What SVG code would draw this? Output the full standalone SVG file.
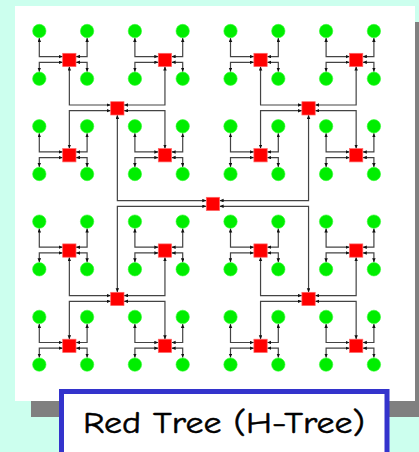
<svg xmlns="http://www.w3.org/2000/svg" width="419" height="452" viewBox="0 0 419 452">
<defs>
<style>
.leaf{fill:#00ee00;stroke:#33ff33;stroke-width:0.6}
.sw{fill:#ff0000;stroke:#ff6666;stroke-width:0.7}
.e{fill:none;stroke:#444;stroke-width:1.2;marker-start:url(#ah);marker-end:url(#ah)}
.lbl{font-family:'Comic Sans MS','Comic Neue','Liberation Sans',sans-serif;font-size:30px;fill:#000;stroke:#000;stroke-width:0.5}
</style>
<marker id="ah" markerUnits="userSpaceOnUse" markerWidth="5" markerHeight="4" refX="4" refY="1.75" orient="auto-start-reverse"><path d="M0,0 L4,1.75 L0,3.5 z" fill="#111"/></marker>
</defs>
<rect x="0" y="0" width="419" height="452" fill="#ccffee"/>
<rect x="31" y="22" width="400" height="395" fill="#808080"/>
<rect x="15" y="6" width="400" height="395" fill="#ffffff"/>
<g id="connectors">
<path class="e" d="M206.3,200.6H117.35V115"/>
<path class="e" d="M206.3,206.3H117.35V292.3"/>
<path class="e" d="M219.6,200.6H308.55V115"/>
<path class="e" d="M219.6,206.3H308.55V292.3"/>
<path class="e" d="M110.7,105H69.35V66.6"/>
<path class="e" d="M110.7,110.7H69.35V148.6"/>
<path class="e" d="M124,105H164.95V66.6"/>
<path class="e" d="M124,110.7H164.95V148.6"/>
<path class="e" d="M301.9,105H260.55V66.6"/>
<path class="e" d="M301.9,110.7H260.55V148.6"/>
<path class="e" d="M315.2,105H356.15V66.6"/>
<path class="e" d="M315.2,110.7H356.15V148.6"/>
<path class="e" d="M110.7,295.6H69.35V257.2"/>
<path class="e" d="M110.7,301.3H69.35V339.2"/>
<path class="e" d="M124,295.6H164.95V257.2"/>
<path class="e" d="M124,301.3H164.95V339.2"/>
<path class="e" d="M301.9,295.6H260.55V257.2"/>
<path class="e" d="M301.9,301.3H260.55V339.2"/>
<path class="e" d="M315.2,295.6H356.15V257.2"/>
<path class="e" d="M315.2,301.3H356.15V339.2"/>
<path class="e" d="M62.7,56.6H39.3V38"/><path class="e" d="M62.7,62.3H39.3V71.7"/><path class="e" d="M76,56.6H87.1V38"/><path class="e" d="M76,62.3H87.1V71.7"/>
<path class="e" d="M62.7,151.9H39.3V133.3"/><path class="e" d="M62.7,157.6H39.3V167"/><path class="e" d="M76,151.9H87.1V133.3"/><path class="e" d="M76,157.6H87.1V167"/>
<path class="e" d="M62.7,247.2H39.3V228.6"/><path class="e" d="M62.7,252.9H39.3V262.3"/><path class="e" d="M76,247.2H87.1V228.6"/><path class="e" d="M76,252.9H87.1V262.3"/>
<path class="e" d="M62.7,342.5H39.3V323.9"/><path class="e" d="M62.7,348.2H39.3V357.6"/><path class="e" d="M76,342.5H87.1V323.9"/><path class="e" d="M76,348.2H87.1V357.6"/>
<path class="e" d="M158.3,56.6H134.9V38"/><path class="e" d="M158.3,62.3H134.9V71.7"/><path class="e" d="M171.6,56.6H182.7V38"/><path class="e" d="M171.6,62.3H182.7V71.7"/>
<path class="e" d="M158.3,151.9H134.9V133.3"/><path class="e" d="M158.3,157.6H134.9V167"/><path class="e" d="M171.6,151.9H182.7V133.3"/><path class="e" d="M171.6,157.6H182.7V167"/>
<path class="e" d="M158.3,247.2H134.9V228.6"/><path class="e" d="M158.3,252.9H134.9V262.3"/><path class="e" d="M171.6,247.2H182.7V228.6"/><path class="e" d="M171.6,252.9H182.7V262.3"/>
<path class="e" d="M158.3,342.5H134.9V323.9"/><path class="e" d="M158.3,348.2H134.9V357.6"/><path class="e" d="M171.6,342.5H182.7V323.9"/><path class="e" d="M171.6,348.2H182.7V357.6"/>
<path class="e" d="M253.9,56.6H230.5V38"/><path class="e" d="M253.9,62.3H230.5V71.7"/><path class="e" d="M267.2,56.6H278.3V38"/><path class="e" d="M267.2,62.3H278.3V71.7"/>
<path class="e" d="M253.9,151.9H230.5V133.3"/><path class="e" d="M253.9,157.6H230.5V167"/><path class="e" d="M267.2,151.9H278.3V133.3"/><path class="e" d="M267.2,157.6H278.3V167"/>
<path class="e" d="M253.9,247.2H230.5V228.6"/><path class="e" d="M253.9,252.9H230.5V262.3"/><path class="e" d="M267.2,247.2H278.3V228.6"/><path class="e" d="M267.2,252.9H278.3V262.3"/>
<path class="e" d="M253.9,342.5H230.5V323.9"/><path class="e" d="M253.9,348.2H230.5V357.6"/><path class="e" d="M267.2,342.5H278.3V323.9"/><path class="e" d="M267.2,348.2H278.3V357.6"/>
<path class="e" d="M349.5,56.6H326.1V38"/><path class="e" d="M349.5,62.3H326.1V71.7"/><path class="e" d="M362.8,56.6H373.9V38"/><path class="e" d="M362.8,62.3H373.9V71.7"/>
<path class="e" d="M349.5,151.9H326.1V133.3"/><path class="e" d="M349.5,157.6H326.1V167"/><path class="e" d="M362.8,151.9H373.9V133.3"/><path class="e" d="M362.8,157.6H373.9V167"/>
<path class="e" d="M349.5,247.2H326.1V228.6"/><path class="e" d="M349.5,252.9H326.1V262.3"/><path class="e" d="M362.8,247.2H373.9V228.6"/><path class="e" d="M362.8,252.9H373.9V262.3"/>
<path class="e" d="M349.5,342.5H326.1V323.9"/><path class="e" d="M349.5,348.2H326.1V357.6"/><path class="e" d="M362.8,342.5H373.9V323.9"/><path class="e" d="M362.8,348.2H373.9V357.6"/>
</g>
<g id="root"><rect class="sw" x="206.3" y="197.3" width="13.3" height="13.3"/></g>
<g id="s2-0-0"><rect class="sw" x="110.7" y="101.7" width="13.3" height="13.3"/></g>
<g id="s2-1-0"><rect class="sw" x="301.9" y="101.7" width="13.3" height="13.3"/></g>
<g id="s2-0-1"><rect class="sw" x="110.7" y="292.3" width="13.3" height="13.3"/></g>
<g id="s2-1-1"><rect class="sw" x="301.9" y="292.3" width="13.3" height="13.3"/></g>
<g id="s1-0-0"><rect class="sw" x="62.7" y="53.3" width="13.3" height="13.3"/></g>
<g id="s1-1-0"><rect class="sw" x="158.3" y="53.3" width="13.3" height="13.3"/></g>
<g id="s1-2-0"><rect class="sw" x="253.9" y="53.3" width="13.3" height="13.3"/></g>
<g id="s1-3-0"><rect class="sw" x="349.5" y="53.3" width="13.3" height="13.3"/></g>
<g id="s1-0-1"><rect class="sw" x="62.7" y="148.6" width="13.3" height="13.3"/></g>
<g id="s1-1-1"><rect class="sw" x="158.3" y="148.6" width="13.3" height="13.3"/></g>
<g id="s1-2-1"><rect class="sw" x="253.9" y="148.6" width="13.3" height="13.3"/></g>
<g id="s1-3-1"><rect class="sw" x="349.5" y="148.6" width="13.3" height="13.3"/></g>
<g id="s1-0-2"><rect class="sw" x="62.7" y="243.9" width="13.3" height="13.3"/></g>
<g id="s1-1-2"><rect class="sw" x="158.3" y="243.9" width="13.3" height="13.3"/></g>
<g id="s1-2-2"><rect class="sw" x="253.9" y="243.9" width="13.3" height="13.3"/></g>
<g id="s1-3-2"><rect class="sw" x="349.5" y="243.9" width="13.3" height="13.3"/></g>
<g id="s1-0-3"><rect class="sw" x="62.7" y="339.2" width="13.3" height="13.3"/></g>
<g id="s1-1-3"><rect class="sw" x="158.3" y="339.2" width="13.3" height="13.3"/></g>
<g id="s1-2-3"><rect class="sw" x="253.9" y="339.2" width="13.3" height="13.3"/></g>
<g id="s1-3-3"><rect class="sw" x="349.5" y="339.2" width="13.3" height="13.3"/></g>
<g id="leaves-r0"><circle class="leaf" cx="39.3" cy="31" r="6.7"/><circle class="leaf" cx="87.1" cy="31" r="6.7"/><circle class="leaf" cx="134.9" cy="31" r="6.7"/><circle class="leaf" cx="182.7" cy="31" r="6.7"/><circle class="leaf" cx="230.5" cy="31" r="6.7"/><circle class="leaf" cx="278.3" cy="31" r="6.7"/><circle class="leaf" cx="326.1" cy="31" r="6.7"/><circle class="leaf" cx="373.9" cy="31" r="6.7"/></g>
<g id="leaves-r1"><circle class="leaf" cx="39.3" cy="78.7" r="6.7"/><circle class="leaf" cx="87.1" cy="78.7" r="6.7"/><circle class="leaf" cx="134.9" cy="78.7" r="6.7"/><circle class="leaf" cx="182.7" cy="78.7" r="6.7"/><circle class="leaf" cx="230.5" cy="78.7" r="6.7"/><circle class="leaf" cx="278.3" cy="78.7" r="6.7"/><circle class="leaf" cx="326.1" cy="78.7" r="6.7"/><circle class="leaf" cx="373.9" cy="78.7" r="6.7"/></g>
<g id="leaves-r2"><circle class="leaf" cx="39.3" cy="126.3" r="6.7"/><circle class="leaf" cx="87.1" cy="126.3" r="6.7"/><circle class="leaf" cx="134.9" cy="126.3" r="6.7"/><circle class="leaf" cx="182.7" cy="126.3" r="6.7"/><circle class="leaf" cx="230.5" cy="126.3" r="6.7"/><circle class="leaf" cx="278.3" cy="126.3" r="6.7"/><circle class="leaf" cx="326.1" cy="126.3" r="6.7"/><circle class="leaf" cx="373.9" cy="126.3" r="6.7"/></g>
<g id="leaves-r3"><circle class="leaf" cx="39.3" cy="174" r="6.7"/><circle class="leaf" cx="87.1" cy="174" r="6.7"/><circle class="leaf" cx="134.9" cy="174" r="6.7"/><circle class="leaf" cx="182.7" cy="174" r="6.7"/><circle class="leaf" cx="230.5" cy="174" r="6.7"/><circle class="leaf" cx="278.3" cy="174" r="6.7"/><circle class="leaf" cx="326.1" cy="174" r="6.7"/><circle class="leaf" cx="373.9" cy="174" r="6.7"/></g>
<g id="leaves-r4"><circle class="leaf" cx="39.3" cy="221.6" r="6.7"/><circle class="leaf" cx="87.1" cy="221.6" r="6.7"/><circle class="leaf" cx="134.9" cy="221.6" r="6.7"/><circle class="leaf" cx="182.7" cy="221.6" r="6.7"/><circle class="leaf" cx="230.5" cy="221.6" r="6.7"/><circle class="leaf" cx="278.3" cy="221.6" r="6.7"/><circle class="leaf" cx="326.1" cy="221.6" r="6.7"/><circle class="leaf" cx="373.9" cy="221.6" r="6.7"/></g>
<g id="leaves-r5"><circle class="leaf" cx="39.3" cy="269.3" r="6.7"/><circle class="leaf" cx="87.1" cy="269.3" r="6.7"/><circle class="leaf" cx="134.9" cy="269.3" r="6.7"/><circle class="leaf" cx="182.7" cy="269.3" r="6.7"/><circle class="leaf" cx="230.5" cy="269.3" r="6.7"/><circle class="leaf" cx="278.3" cy="269.3" r="6.7"/><circle class="leaf" cx="326.1" cy="269.3" r="6.7"/><circle class="leaf" cx="373.9" cy="269.3" r="6.7"/></g>
<g id="leaves-r6"><circle class="leaf" cx="39.3" cy="316.9" r="6.7"/><circle class="leaf" cx="87.1" cy="316.9" r="6.7"/><circle class="leaf" cx="134.9" cy="316.9" r="6.7"/><circle class="leaf" cx="182.7" cy="316.9" r="6.7"/><circle class="leaf" cx="230.5" cy="316.9" r="6.7"/><circle class="leaf" cx="278.3" cy="316.9" r="6.7"/><circle class="leaf" cx="326.1" cy="316.9" r="6.7"/><circle class="leaf" cx="373.9" cy="316.9" r="6.7"/></g>
<g id="leaves-r7"><circle class="leaf" cx="39.3" cy="364.6" r="6.7"/><circle class="leaf" cx="87.1" cy="364.6" r="6.7"/><circle class="leaf" cx="134.9" cy="364.6" r="6.7"/><circle class="leaf" cx="182.7" cy="364.6" r="6.7"/><circle class="leaf" cx="230.5" cy="364.6" r="6.7"/><circle class="leaf" cx="278.3" cy="364.6" r="6.7"/><circle class="leaf" cx="326.1" cy="364.6" r="6.7"/><circle class="leaf" cx="373.9" cy="364.6" r="6.7"/></g>
<g id="label">
<rect x="61.5" y="391.5" width="325.5" height="70" fill="#ffffff" stroke="#3333cc" stroke-width="5"/>
<text class="lbl" x="83" y="433" textLength="282" lengthAdjust="spacingAndGlyphs">Red Tree (H-Tree)</text>
</g>
</svg>
